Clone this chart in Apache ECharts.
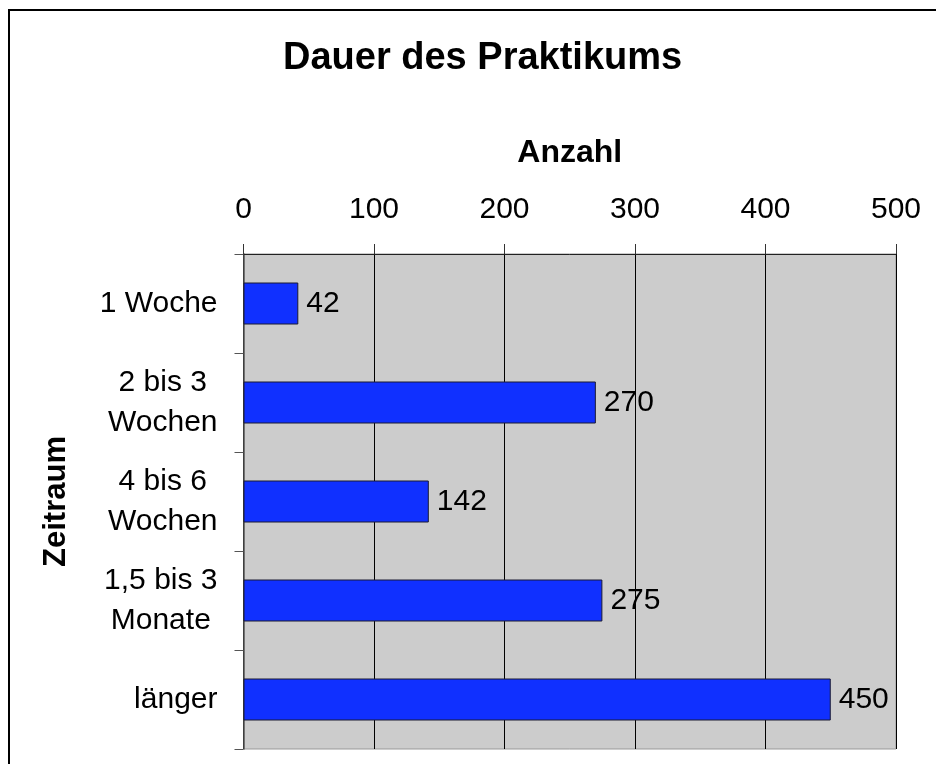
<!DOCTYPE html>
<html>
<head>
<meta charset="utf-8">
<script src="https://cdn.jsdelivr.net/npm/echarts@6/dist/echarts.min.js"></script>
<style>
  html, body { margin: 0; padding: 0; background: #fff; }
  #chart { width: 936px; height: 764px; }
</style>
</head>
<body>
<div id="chart"></div>
<script>
const categories = ['1 Woche', '2 bis 3\nWochen', '4 bis 6\nWochen', '1,5 bis 3\nMonate', 'länger'];
const values = [42, 270, 142, 275, 450];
const xTicks = [0, 100, 200, 300, 400, 500];

const FONT = '"Liberation Sans", Arial, sans-serif';
const chart = echarts.init(document.getElementById('chart'), null, { renderer: 'canvas' });

chart.setOption({
  backgroundColor: '#ffffff',
  animation: false,
  title: {
    text: 'Dauer des Praktikums',
    left: 278,
    top: 35,
    textStyle: { fontFamily: FONT, fontSize: 38, fontWeight: 'bold', color: '#000' }
  },
  graphic: [{
    type: 'rect',
    shape: { x: 9, y: 10, width: 1000, height: 1000 },
    style: { fill: 'none', stroke: '#000', lineWidth: 2 },
    silent: true
  }],
  grid: {
    left: 243.5, right: 40, top: 254, bottom: 15,
    show: true,
    backgroundColor: '#cccccc',
    borderColor: '#999999',
    borderWidth: 1
  },
  xAxis: {
    type: 'value',
    position: 'top',
    min: xTicks[0],
    max: xTicks[xTicks.length - 1],
    interval: 100,
    name: 'Anzahl',
    nameLocation: 'middle',
    nameGap: 85,
    nameTextStyle: { fontFamily: FONT, fontSize: 32, fontWeight: 'bold', color: '#000' },
    axisLine: { show: true, lineStyle: { color: '#222', width: 1 } },
    axisTick: { show: true, inside: false, length: 10, lineStyle: { color: '#333', width: 1 } },
    axisLabel: {
      fontFamily: FONT, fontSize: 30, color: '#000', margin: 29,
      formatter: v => String(v)
    },
    splitLine: { show: true, lineStyle: { color: '#000', width: 1 } }
  },
  yAxis: {
    type: 'category',
    data: categories,
    inverse: true,
    name: 'Zeitraum',
    nameLocation: 'middle',
    nameRotate: 90,
    nameGap: 172,
    nameTextStyle: { fontFamily: FONT, fontSize: 31, fontWeight: 'bold', color: '#000' },
    axisLine: { show: true, lineStyle: { color: '#555', width: 1.5 } },
    axisTick: { show: true, length: 9, alignWithLabel: false, lineStyle: { color: '#555', width: 1 } },
    axisLabel: {
      margin: 26,
      fontFamily: FONT, fontSize: 30, color: '#000', lineHeight: 40,
      formatter: v => v.split('\n').map(s => '{c|' + s + '}').join('\n'),
      rich: {
        c: { fontFamily: FONT, fontSize: 30, color: '#000', lineHeight: 40, align: 'center' }
      }
    }
  },
  series: [{
    type: 'bar',
    data: values,
    barWidth: 42,
    itemStyle: { color: '#1030ff', borderColor: '#1a1a33', borderWidth: 1 },
    label: {
      show: true,
      position: 'right',
      distance: 8,
      fontFamily: FONT, fontSize: 30, color: '#000'
    }
  }]
});
</script>
</body>
</html>
